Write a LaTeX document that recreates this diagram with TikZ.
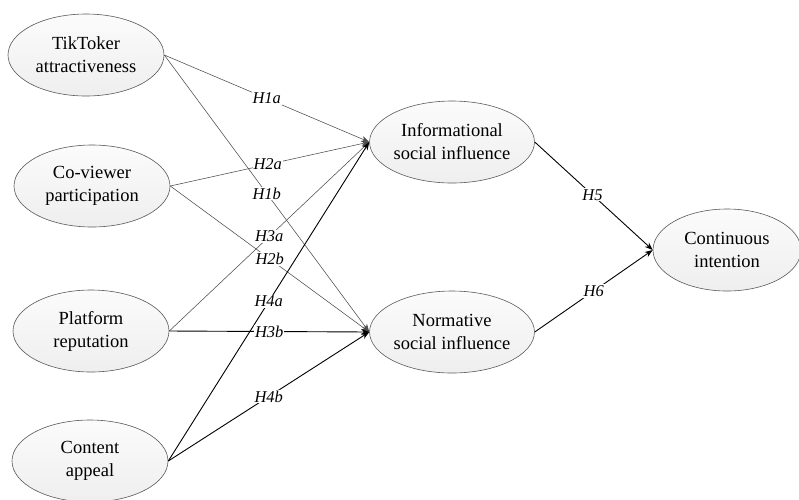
\documentclass[tikz,border=0pt]{standalone}
\usepackage{fontspec}
\setmainfont{Liberation Serif}
\usetikzlibrary{shapes.geometric,arrows.meta}
\tikzset{
  cons/.style={ellipse, draw=black!65, line width=0.6pt, top color=gray!3, bottom color=gray!13,
    minimum width=156pt, minimum height=82pt, inner sep=0pt, align=center,
    font=\fontsize{18.5}{23}\selectfont},
  thinarr/.style={draw=black!70, line width=0.55pt, -{Stealth[length=8pt,width=6pt]}},
  thickarr/.style={draw=black, line width=0.9pt, -{Stealth[length=8pt,width=6pt]}},
  lbl/.style={fill=white, inner sep=1pt, font=\fontsize{16.5}{18}\selectfont\itshape},
}
\begin{document}
\begin{tikzpicture}[x=1pt,y=-1pt]
\useasboundingbox (0,0) rectangle (799,499);
\node[cons] (tt) at (86,55) {TikToker\\attractiveness};
\node[cons] (cv) at (92,186) {Co-viewer\\participation};
\node[cons] (pr) at (91,331) {Platform\\reputation};
\node[cons] (ca) at (90,461) {Content\\appeal};
\node[cons] (isi) at (452,142) {Informational\\social influence};
\node[cons] (nsi) at (452,332) {Normative\\social influence};
\node[cons, minimum width=148pt] (ci) at (727,250) {Continuous\\intention};

\draw[thinarr] (tt.east) -- (isi.west);
\draw[thinarr] (tt.east) -- (nsi.west);
\draw[thinarr] (cv.east) -- (isi.west);
\draw[thinarr] (cv.east) -- (nsi.west);
\draw[thinarr] (pr.east) -- (isi.west);
\draw[thickarr] (pr.east) -- (nsi.west);
\draw[thickarr] (ca.east) -- (isi.west);
\draw[thickarr] (ca.east) -- (nsi.west);
\draw[thickarr] (isi.east) -- (ci.west);
\draw[thickarr] (nsi.east) -- (ci.west);

\path (tt.east) -- (isi.west) node[lbl,pos=.5] {H1a};
\path (tt.east) -- (nsi.west) node[lbl,pos=.5] {H1b};
\path (cv.east) -- (isi.west) node[lbl,pos=.49] {H2a};
\path (cv.east) -- (nsi.west) node[lbl,pos=.5] {H2b};
\path (pr.east) -- (isi.west) node[lbl,pos=.5] {H3a};
\path (pr.east) -- (nsi.west) node[lbl,pos=.5] {H3b};
\path (ca.east) -- (isi.west) node[lbl,pos=.5] {H4a};
\path (ca.east) -- (nsi.west) node[lbl,pos=.5] {H4b};
\path (isi.east) -- (ci.west) node[lbl,pos=.49] {H5};
\path (nsi.east) -- (ci.west) node[lbl,pos=.5] {H6};
\end{tikzpicture}
\end{document}
